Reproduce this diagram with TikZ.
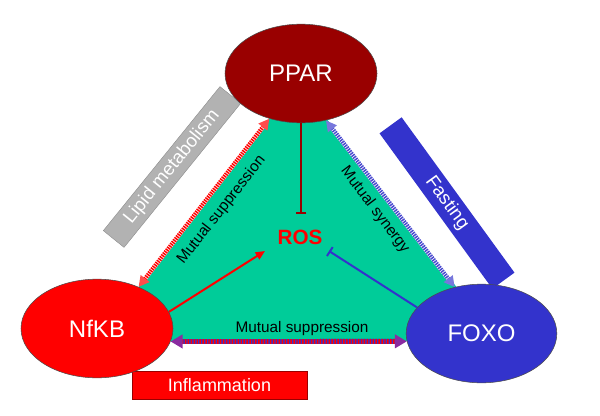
\documentclass[tikz,border=0pt]{standalone}
\usepackage{fontspec}
\setmainfont{Liberation Sans}
\usetikzlibrary{arrows.meta,shapes.geometric}
\definecolor{tealbg}{HTML}{00CC99}
\definecolor{pparc}{HTML}{990000}
\definecolor{foxoc}{HTML}{3333CC}
\definecolor{lipidc}{HTML}{B2B2B2}
\definecolor{hblue}{HTML}{4A4AD0}
\definecolor{purp}{HTML}{8A2BA0}
\begin{document}
\begin{tikzpicture}[x=0.75pt,y=-0.75pt,
  gene/.style={ellipse, draw=black!70, line width=0.4pt, inner sep=0pt,
    text=white, font=\fontsize{18}{20}\selectfont,
    minimum width=114pt, minimum height=74pt},
  lab/.style={font=\fontsize{11.5}{13}\selectfont, text=black, inner sep=0pt},
  rbox/.style={rectangle, inner sep=0pt, text=white,
    font=\fontsize{14}{16}\selectfont},
  inhib/.style={line width=1.5pt, -{Bar[width=8pt,line width=1.5pt]}},
  stripe/.style={line width=3.2pt, dash pattern=on 1.1pt off 0.7pt}
]
\useasboundingbox (0,0) rectangle (600,415);
% green triangle background
\fill[tealbg] (270,118) -- (326,118) -- (458,289) -- (430,341)
  -- (160,341) -- (138,288) -- cycle;

% side boxes
\node[rbox, fill=lipidc, draw=black!45, line width=0.3pt, rotate=51,
  minimum width=139pt, minimum height=20pt] (lipid) at (172,167) {Lipid metabolism};
\node[rbox, fill=foxoc, rotate=-54,
  minimum width=144pt, minimum height=20.5pt] (fasting) at (447,203) {Fasting};
\node[rbox, fill=red, draw=pparc, line width=0.4pt,
  minimum width=131pt, minimum height=21pt,
  font=\fontsize{13.5}{15}\selectfont] (infl) at (219.5,385) {Inflammation};

% gene nodes
\node[gene, fill=pparc] (ppar) at (301,73.5) {PPAR};
\node[gene, fill=red] (nfkb) at (97,328.5) {NfKB};
\node[gene, fill=foxoc, minimum width=113pt] (foxo) at (481.5,333.5) {FOXO};

% ROS
\node[text=red, font=\bfseries\fontsize{15.5}{17}\selectfont, inner sep=0pt] (ros) at (300,237) {ROS};
\coordinate (rosT) at (301,214);
\coordinate (rosR) at (329,251);
\coordinate (rosL) at (265,251);

% inhibition / activation
\draw[inhib, pparc] (ppar.south) -- (rosT);
\draw[inhib, foxoc] (foxo.158) -- (rosR);
\draw[red, line width=1.5pt, -{Triangle[length=7pt,width=6pt]}] (nfkb.13) -- (rosL);

% hatched double arrows
\draw[white, line width=3.2pt, shorten <=7pt, shorten >=7pt] (nfkb.45) -- (ppar.235);
\draw[stripe, red, {Triangle[length=8pt,width=8pt,color=red!70]}-{Triangle[length=8pt,width=8pt,color=red!70]}] (nfkb.45) -- (ppar.235);

\draw[white, line width=3.2pt, shorten <=7pt, shorten >=7pt] (ppar.298) -- (foxo.120);
\draw[stripe, hblue, {Triangle[length=8pt,width=8pt,color=hblue!75]}-{Triangle[length=8pt,width=8pt,color=hblue!75]}] (ppar.298) -- (foxo.120);

\draw[foxoc, line width=3.6pt, shorten <=8pt, shorten >=8pt] (nfkb.-10) -- (foxo.186);
\draw[red, line width=3.6pt, dash pattern=on 1.1pt off 1.1pt,
  {Triangle[length=9pt,width=10pt,color=purp]}-{Triangle[length=9pt,width=10pt,color=purp]}] (nfkb.-10) -- (foxo.186);

% labels
\node[lab, rotate=52] (ms1) at (221.5,210) {Mutual suppression};
\node[lab, rotate=-53] (ms2) at (375,210) {Mutual synergy};
\node[lab] (ms3) at (302,329) {Mutual suppression};
\end{tikzpicture}
\end{document}
